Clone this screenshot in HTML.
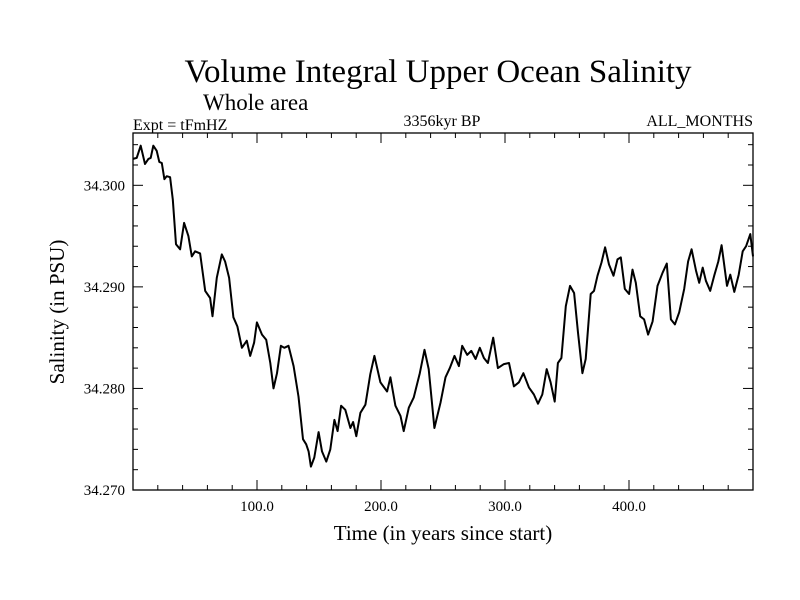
<!DOCTYPE html>
<html><head><meta charset="utf-8"><style>
html,body{margin:0;padding:0;background:#fff;}
svg{display:block;font-family:"Liberation Serif",serif;}
</style></head><body>
<svg id="chart" width="800" height="600" xmlns="http://www.w3.org/2000/svg">
<text x="438" y="82" font-size="33" text-anchor="middle">Volume Integral Upper Ocean Salinity</text>
<text x="203" y="110" font-size="23">Whole area</text>
<text x="133" y="130" font-size="16">Expt = tFmHZ</text>
<text x="442" y="126" font-size="16" text-anchor="middle">3356kyr BP</text>
<text x="753" y="126" font-size="16" text-anchor="end">ALL_MONTHS</text>
<text x="443" y="540" font-size="21" text-anchor="middle">Time (in years since start)</text>
<text transform="translate(64,312) rotate(-90)" font-size="21" text-anchor="middle">Salinity (in PSU)</text>
<g id="axes"></g>
<g id="series"></g>
<rect x="133" y="133" width="620" height="357" fill="none" stroke="#000" stroke-width="1.3"/>
</svg>
<script>
const years = [0.0,3.0,6.2,9.7,12.4,14.3,16.4,19.1,21.2,23.2,25.3,27.2,29.9,32.1,34.7,38.0,41.2,44.7,47.4,50.1,54.1,58.2,62.2,64.1,67.6,71.6,74.3,77.5,81.0,84.2,87.8,91.8,94.5,97.7,99.9,104.0,107.4,110.7,113.3,116.1,119.3,122.0,125.4,129.5,133.5,137.1,139.7,141.6,143.5,146.2,149.7,152.4,155.9,159.1,162.4,165.0,167.8,171.2,175.3,177.5,180.1,183.4,187.4,191.4,194.7,199.5,204.9,207.6,211.6,215.7,218.3,222.4,226.4,231.3,235.1,238.5,243.1,248.0,252.0,255.5,259.3,262.8,265.5,269.5,272.8,276.3,279.7,283.0,286.2,290.5,294.3,299.1,303.2,307.2,311.2,314.8,319.3,323.3,326.6,330.1,333.6,336.8,340.1,342.7,345.5,349.0,352.4,355.7,358.9,362.4,365.1,369.1,371.8,374.6,377.8,380.7,383.9,387.5,390.7,393.4,396.6,400.1,402.8,405.5,409.0,412.2,415.4,419.0,423.0,427.1,430.5,433.8,437.0,440.5,444.5,447.7,450.5,454.0,456.6,459.4,462.0,465.5,468.7,472.0,474.7,479.0,481.7,484.9,488.5,491.7,494.4,497.8,500.0];
const salinity = [34.3026,34.3027,34.3039,34.3021,34.3026,34.3027,34.3039,34.3034,34.3023,34.3022,34.3006,34.3009,34.3008,34.2986,34.2942,34.2937,34.2963,34.2950,34.2930,34.2935,34.2933,34.2896,34.2889,34.2871,34.2909,34.2932,34.2925,34.2909,34.2870,34.2861,34.2840,34.2847,34.2832,34.2845,34.2865,34.2853,34.2848,34.2825,34.2800,34.2815,34.2842,34.2840,34.2842,34.2822,34.2792,34.2750,34.2745,34.2738,34.2723,34.2732,34.2757,34.2738,34.2728,34.2740,34.2769,34.2758,34.2783,34.2779,34.2761,34.2767,34.2753,34.2776,34.2784,34.2814,34.2832,34.2806,34.2797,34.2811,34.2783,34.2773,34.2758,34.2781,34.2791,34.2815,34.2838,34.2819,34.2761,34.2786,34.2811,34.2820,34.2832,34.2822,34.2842,34.2833,34.2837,34.2829,34.2840,34.2830,34.2825,34.2850,34.2820,34.2824,34.2825,34.2802,34.2806,34.2815,34.2801,34.2794,34.2785,34.2794,34.2819,34.2806,34.2787,34.2825,34.2830,34.2881,34.2901,34.2894,34.2855,34.2815,34.2829,34.2893,34.2896,34.2911,34.2924,34.2939,34.2922,34.2911,34.2927,34.2929,34.2898,34.2893,34.2917,34.2904,34.2871,34.2868,34.2853,34.2866,34.2901,34.2914,34.2923,34.2868,34.2863,34.2875,34.2898,34.2925,34.2937,34.2916,34.2904,34.2919,34.2906,34.2896,34.2911,34.2925,34.2941,34.2901,34.2912,34.2895,34.2912,34.2935,34.2940,34.2952,34.2930];
const xTickValues = [100,200,300,400];
const xTickLabels = ["100.0","200.0","300.0","400.0"];
const yTickValues = [34.270,34.280,34.290,34.300];
const yTickLabels = ["34.270","34.280","34.290","34.300"];

const L=133,R=753,T=133,B=490;
const xMin=0,xMax=500,yMin=34.270,yMax=34.30515;
function sx(v){return L+(v-xMin)/(xMax-xMin)*(R-L);}
function sy(v){return B-(v-yMin)/(yMax-yMin)*(B-T);}
const NS="http://www.w3.org/2000/svg";
const axes=document.getElementById('axes');
function line(x1,y1,x2,y2,name){
  const l=document.createElementNS(NS,'line');
  l.setAttribute('x1',x1);l.setAttribute('y1',y1);l.setAttribute('x2',x2);l.setAttribute('y2',y2);
  l.setAttribute('stroke','#000');l.setAttribute('stroke-width','1');
  
  
  axes.appendChild(l);
}
// x ticks (minor every 20, major every 100)
for(let v=20;v<xMax;v+=20){
  const x=sx(v);const major=(v%100===0);const len=major?10:5;
  line(x,B,x,B-len,'x-tick');
  line(x,T,x,T+len,'x-tick-top');
}
xTickValues.forEach((v,i)=>{
  const t=document.createElementNS(NS,'text');
  t.setAttribute('x',sx(v));t.setAttribute('y',B+21);t.setAttribute('font-size','15');t.setAttribute('text-anchor','middle');
  t.textContent=xTickLabels[i];
  
  
  axes.appendChild(t);
});
// y ticks (minor every 0.002)
for(let k=1;k<=17;k++){
  const v=yMin+k*0.002;if(v>yMax)break;
  const y=sy(v);const major=(k%5===0);const len=major?10:5;
  line(L,y,L+len,y,'y-tick');
  line(R,y,R-len,y,'y-tick-right');
}
yTickValues.forEach((v,i)=>{
  const t=document.createElementNS(NS,'text');
  t.setAttribute('x',L-8);t.setAttribute('y',sy(v)+5);t.setAttribute('font-size','15');t.setAttribute('text-anchor','end');
  t.textContent=yTickLabels[i];
  
  
  axes.appendChild(t);
});
// series
const p=document.createElementNS(NS,'polyline');
p.setAttribute('points',years.map((yr,i)=>sx(yr).toFixed(1)+','+sy(salinity[i]).toFixed(1)).join(' '));
p.setAttribute('fill','none');p.setAttribute('stroke','#000');p.setAttribute('stroke-width','2');p.setAttribute('stroke-linejoin','round');


document.getElementById('series').appendChild(p);
</script>
</body></html>
